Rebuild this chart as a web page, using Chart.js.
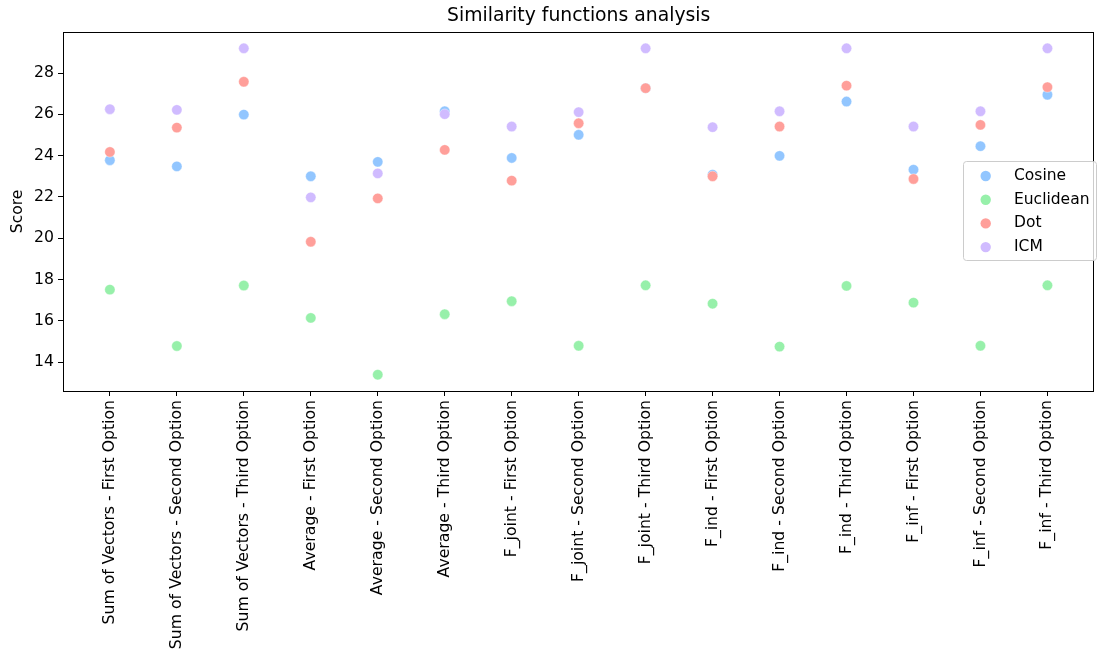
<!DOCTYPE html>
<html>
<head>
<meta charset="utf-8">
<script src="https://cdn.jsdelivr.net/npm/chart.js@4"></script>
<style>
  html, body { margin: 0; padding: 0; background: #ffffff; }
  canvas { display: block; }
</style>
</head>
<body>
<canvas id="chart" width="1100" height="652"></canvas>
<script>
// Configurations compared, one per x position
const categories = [
  "Sum of Vectors - First Option",
  "Sum of Vectors - Second Option",
  "Sum of Vectors - Third Option",
  "Average - First Option",
  "Average - Second Option",
  "Average - Third Option",
  "F_joint - First Option",
  "F_joint - Second Option",
  "F_joint - Third Option",
  "F_ind - First Option",
  "F_ind - Second Option",
  "F_ind - Third Option",
  "F_inf - First Option",
  "F_inf - Second Option",
  "F_inf - Third Option"
];

// Scores per similarity function
const cosine    = [23.78, 23.48, 25.99, 23.00, 23.70, 26.15, 23.89, 25.01, 27.27, 23.08, 23.99, 26.62, 23.32, 24.46, 26.95];
const euclidean = [17.51, 14.78, 17.71, 16.14, 13.39, 16.32, 16.95, 14.79, 17.72, 16.83, 14.75, 17.69, 16.88, 14.79, 17.72];
const dot       = [24.18, 25.36, 27.58, 19.83, 21.93, 24.28, 22.79, 25.57, 27.27, 23.00, 25.41, 27.39, 22.87, 25.49, 27.32];
const icm       = [26.25, 26.22, 29.20, 21.98, 23.14, 26.01, 25.41, 26.11, 29.20, 25.38, 26.15, 29.20, 25.41, 26.15, 29.20];

const yTicks = [14, 16, 18, 20, 22, 24, 26, 28];

const seriesNames = ["Cosine", "Euclidean", "Dot", "ICM"];
const seriesValues = [cosine, euclidean, dot, icm];
const seriesColors = ["#92C6FF", "#97F0AA", "#FF9F9A", "#D0BBFF"];

const FONT = "'DejaVu Sans', sans-serif";
const TICK_SIZE = 15.7;
const LABEL_SIZE = 15.5;
const TITLE_SIZE = 18.8;

const datasets = seriesNames.map((name, s) => ({
  label: name,
  data: seriesValues[s].map((v, i) => ({ x: i, y: v })),
  backgroundColor: seriesColors[s],
  borderColor: "rgba(255,255,255,0.8)",
  borderWidth: 0.5,
  pointRadius: 5.2,
  pointHoverRadius: 5.2,
  showLine: false,
  order: seriesNames.length - s   // later series drawn on top
}));

// Frame, title, axis label and legend box
const decorations = {
  id: "decorations",
  afterDraw(chart) {
    const ctx = chart.ctx;
    const a = chart.chartArea;
    ctx.save();
    ctx.strokeStyle = "#000000";
    ctx.lineWidth = 1;
    ctx.strokeRect(Math.round(a.left) + 0.5, Math.round(a.top) + 0.5,
                   Math.round(a.right - a.left) - 1, Math.round(a.bottom - a.top));

    ctx.fillStyle = "#000000";
    ctx.font = TITLE_SIZE + "px " + FONT;
    ctx.textAlign = "center";
    ctx.textBaseline = "middle";
    ctx.fillText("Similarity functions analysis", (a.left + a.right) / 2, 16);

    ctx.font = LABEL_SIZE + "px " + FONT;
    ctx.save();
    ctx.translate(18, (a.top + a.bottom) / 2);
    ctx.rotate(-Math.PI / 2);
    ctx.fillText("Score", 0, 0);
    ctx.restore();

    // legend
    const bx = 963.5, by = 161.5, bw = 133, bh = 99, r = 3;
    ctx.beginPath();
    ctx.moveTo(bx + r, by);
    ctx.lineTo(bx + bw - r, by);
    ctx.quadraticCurveTo(bx + bw, by, bx + bw, by + r);
    ctx.lineTo(bx + bw, by + bh - r);
    ctx.quadraticCurveTo(bx + bw, by + bh, bx + bw - r, by + bh);
    ctx.lineTo(bx + r, by + bh);
    ctx.quadraticCurveTo(bx, by + bh, bx, by + bh - r);
    ctx.lineTo(bx, by + r);
    ctx.quadraticCurveTo(bx, by, bx + r, by);
    ctx.closePath();
    ctx.fillStyle = "rgba(255,255,255,0.8)";
    ctx.fill();
    ctx.strokeStyle = "#cccccc";
    ctx.lineWidth = 1;
    ctx.stroke();

    ctx.textAlign = "left";
    ctx.textBaseline = "middle";
    chart.data.datasets.forEach((ds, i) => {
      const y = 176 + i * 23.7;
      ctx.beginPath();
      ctx.arc(985.7, y, 5.2, 0, Math.PI * 2);
      ctx.fillStyle = ds.backgroundColor;
      ctx.fill();
      ctx.fillStyle = "#000000";
      ctx.font = LABEL_SIZE + "px " + FONT;
      ctx.fillText(ds.label, 1014, y);
    });
    ctx.restore();
  }
};

new Chart(document.getElementById("chart"), {
  type: "scatter",
  data: { datasets },
  plugins: [decorations],
  options: {
    responsive: false,
    animation: false,
    layout: { padding: { top: 32, right: 1, left: 0, bottom: 0 } },
    plugins: {
      legend: { display: false },
      title: { display: false },
      tooltip: { enabled: false }
    },
    scales: {
      x: {
        type: "linear",
        min: -0.7,
        max: 14.7,
        afterBuildTicks: (scale) => { scale.ticks = categories.map((_, i) => ({ value: i })); },
        afterFit: (scale) => { scale.height = 261; },
        grid: { display: true, drawOnChartArea: false, drawTicks: true, tickLength: 5, color: "#000000", lineWidth: 1 },
        border: { display: false },
        ticks: {
          autoSkip: false,
          minRotation: 90,
          maxRotation: 90,
          padding: 4,
          color: "#000000",
          font: { family: FONT, size: TICK_SIZE },
          callback: (v) => categories[v]
        }
      },
      y: {
        min: 12.6,
        max: 29.99,
        afterBuildTicks: (scale) => { scale.ticks = yTicks.map(v => ({ value: v })); },
        afterFit: (scale) => { scale.width = 63; },
        grid: { display: true, drawOnChartArea: false, drawTicks: true, tickLength: 5, color: "#000000", lineWidth: 1 },
        border: { display: false },
        ticks: {
          padding: 4,
          color: "#000000",
          font: { family: FONT, size: TICK_SIZE },
          callback: (v) => String(v)
        }
      }
    }
  }
});
</script>
</body>
</html>
